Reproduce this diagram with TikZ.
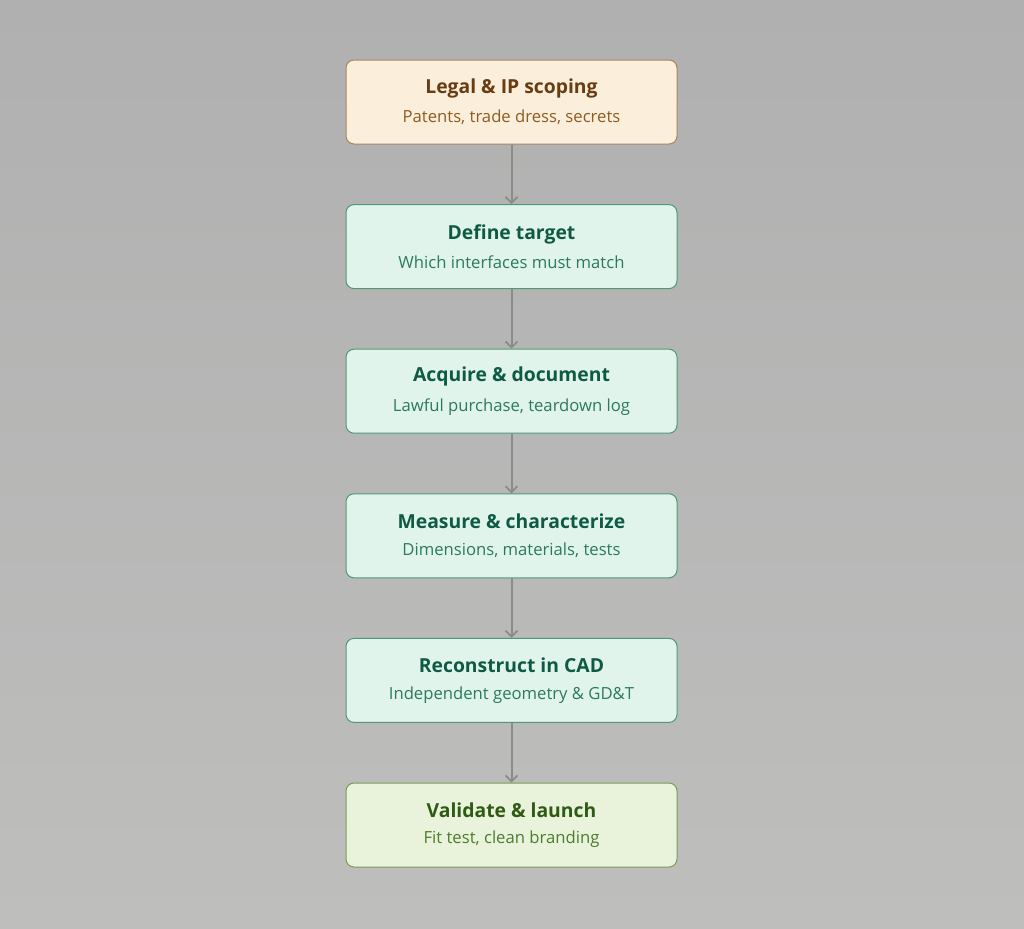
\documentclass[tikz,border=0pt]{standalone}
\usepackage{fontspec}
\setmainfont{Open Sans}
\usetikzlibrary{positioning, arrows.meta}
\definecolor{bgtop}{HTML}{AFB0AF}
\definecolor{bgbot}{HTML}{BEBFBD}
\definecolor{legalfill}{HTML}{FBEEDB}
\definecolor{legaldraw}{HTML}{A8865A}
\definecolor{legaltitle}{HTML}{6A3C12}
\definecolor{legalsub}{HTML}{8C5C22}
\definecolor{stepfill}{HTML}{E1F4EC}
\definecolor{stepdraw}{HTML}{4F9878}
\definecolor{steptitle}{HTML}{0E5A44}
\definecolor{stepsub}{HTML}{2A7A60}
\definecolor{donefill}{HTML}{E9F3DC}
\definecolor{donedraw}{HTML}{7A9A58}
\definecolor{donetitle}{HTML}{2E5A14}
\definecolor{donesub}{HTML}{4C7C2C}
\definecolor{flow}{HTML}{8A8C88}
\tikzset{node distance=108.45pt, % centre to centre of two boxes
every stagebox/.style={ % common look of each box
rounded corners=6pt,
line width=0.75pt,
minimum width=248.25pt,
minimum height=63pt,
align=center},
stagebox/.style={every stagebox, fill=stepfill, draw=stepdraw},
legalbox/.style={every stagebox, fill=legalfill, draw=legaldraw},
donebox/.style={every stagebox, fill=donefill, draw=donedraw},
flowline/.style={ % the connectors
draw=flow, line width=1.5pt, -{Straight Barb[length=4.5pt,width=9pt,line width=1.3pt]}}}
\newcommand{\stagetext}[4]{{\color{#1}\bfseries\fontsize{14.5}{18}\selectfont #2}\\[8pt]{\color{#3}\fontsize{12.5}{15}\selectfont #4}}

\begin{document}
\begin{tikzpicture}[x=0.75pt, y=-0.75pt]

    \shade[top color=bgtop, bottom color=bgbot] (0,0) rectangle (1024,928);
    \useasboundingbox (0,0) rectangle (1024,928);

    \node[legalbox] (legal) at (511.5,102) {\stagetext{legaltitle}{Legal \& IP scoping}{legalsub}{Patents, trade dress, secrets}};
    \node[stagebox, below of=legal] (target) {\stagetext{steptitle}{Define target}{stepsub}{Which interfaces must match}};
    \node[stagebox, below of=target] (acquire) {\stagetext{steptitle}{Acquire \& document}{stepsub}{Lawful purchase, teardown log}};
    \node[stagebox, below of=acquire] (measure) {\stagetext{steptitle}{Measure \& characterize}{stepsub}{Dimensions, materials, tests}};
    \node[stagebox, below of=measure] (cad) {\stagetext{steptitle}{Reconstruct in CAD}{stepsub}{Independent geometry \& GD\&T}};
    \node[donebox, below of=cad] (launch) {\stagetext{donetitle}{Validate \& launch}{donesub}{Fit test, clean branding}};

    \draw[flowline] (legal) -- (target);
    \draw[flowline] (target) -- (acquire);
    \draw[flowline] (acquire) -- (measure);
    \draw[flowline] (measure) -- (cad);
    \draw[flowline] (cad) -- (launch);

\end{tikzpicture}
\end{document}
